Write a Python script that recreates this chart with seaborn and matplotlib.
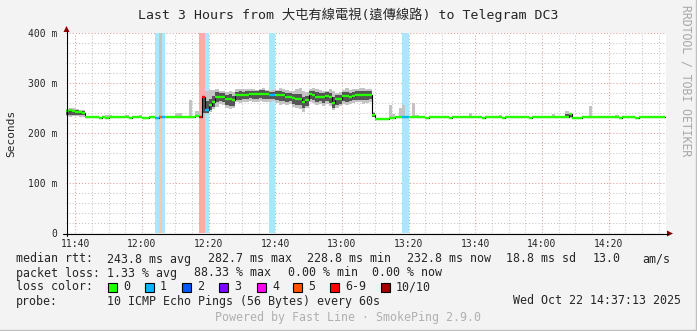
import matplotlib
matplotlib.use("Agg")
import matplotlib.pyplot as plt
from matplotlib.patches import Rectangle, Polygon
from matplotlib.lines import Line2D
from matplotlib.ticker import MultipleLocator, FixedLocator
from matplotlib.colors import to_rgb
import numpy as np
import pandas as pd
import seaborn as sns

sns.set_style("white")
MONO = ["DejaVu Sans Mono", "Noto Sans CJK TC"]
plt.rcParams["font.family"] = MONO

# ---------------- data ----------------
title = "Last 3 Hours from 大屯有線電視(遠傳線路) to Telegram DC3"
slot_start = 697            # 11:37 (minute of day), one slot per minute
view_start = 697 + 13 / 60  # 11:37:13
view_minutes = 180

tick_minutes = [700, 720, 740, 760, 780, 800, 820, 840, 860]
tick_labels = ["11:40", "12:00", "12:20", "12:40", "13:00", "13:20", "13:40", "14:00", "14:20"]
y_ticks = [0, 100, 200, 300, 400]
y_tick_labels = ["0", "100 m", "200 m", "300 m", "400 m"]

loss_buckets = ["0", "1", "2", "3", "4", "5", "6-9", "10/10"]
loss_palette = ["#26ff00", "#00b8ff", "#0059ff", "#7e00ff", "#ff00ff", "#ff5500", "#ff0000", "#a10000"]

# median rtt per minute (ms)
median = [
    244, 246, 244, 243, 243, 241, 233, 232, 232, 232,
    231, 232, 230, 232, 232, 232, 232, 232, 232, 231,
    232, 232, 232, 231, 230, 232, 232, 231, 232, 232,
    232, 232, 232, 232, 232, 232, 232, 233, 233, 234,
    233, 273, 246, 256, 263, 273, 273, 272, 268, 268,
    266, 276, 276, 276, 277, 278, 278, 278, 279, 279,
    278, 277, 276, 276, 276, 276, 273, 273, 270, 269,
    269, 263, 266, 278, 276, 273, 273, 272, 274, 272,
    261, 269, 269, 274, 274, 273, 275, 276, 276, 277,
    276, 277, 236, 229, 229, 229, 229, 231, 231, 232,
    232, 232, 232, 232, 232, 232, 232, 232, 231, 232,
    232, 232, 232, 232, 232, 231, 232, 232, 232, 232,
    232, 233, 232, 232, 232, 231, 232, 232, 232, 232,
    232, 231, 232, 232, 232, 232, 232, 232, 232, 231,
    232, 232, 232, 232, 232, 232, 232, 232, 232, 233,
    233, 238, 231, 231, 231, 232, 232, 232, 232, 232,
    232, 232, 232, 232, 232, 232, 231, 232, 232, 232,
    232, 231, 232, 232, 232, 232, 232, 232, 232, 233,
]

# lost pings (of 10) per minute
loss = [0] * 180
for i_, n_ in [(27, 1), (28, 5), (29, 1), (40, 7), (41, 7), (42, 1),
               (61, 1), (62, 1), (101, 1), (102, 1)]:
    loss[i_] = n_

# outer smoke (min / max ping)
smoke_hi = [
    249, 250, 250, 248, 247, 246, 235, 233, 233, 233,
    233, 233, 237, 237, 233, 233, 233, 233, 236, 233,
    233, 233, 236, 233, 233, 233, 233, 233, 420, 233,
    233, 233, 233, 241, 241, 233, 233, 266, 235, 244,
    236, 276, 285, 286, 287, 288, 285, 284, 282, 284,
    283, 289, 289, 288, 288, 289, 288, 287, 289, 290,
    287, 285, 286, 287, 290, 288, 286, 285, 284, 288,
    290, 285, 282, 289, 290, 288, 286, 285, 284, 288,
    285, 281, 283, 286, 290, 287, 288, 289, 290, 291,
    289, 288, 243, 231, 231, 231, 231, 256, 238, 233,
    251, 256, 233, 233, 261, 236, 233, 235, 233, 233,
    233, 235, 233, 233, 233, 233, 233, 233, 233, 233,
    233, 240, 234, 233, 233, 233, 233, 233, 233, 233,
    236, 233, 233, 233, 233, 233, 233, 233, 233, 233,
    233, 233, 233, 233, 233, 233, 239, 233, 233, 234,
    244, 241, 233, 233, 233, 233, 233, 255, 234, 233,
    233, 233, 233, 233, 233, 236, 233, 233, 233, 233,
    233, 233, 234, 234, 233, 233, 233, 233, 233, 234,
]
smoke_lo = [
    234, 233, 234, 234, 233, 233, 231, 231, 231, 231,
    230, 231, 229, 231, 231, 231, 231, 231, 231, 230,
    231, 231, 231, 230, 229, 231, 231, 230, 231, 231,
    231, 231, 231, 231, 231, 231, 231, 231, 231, 232,
    232, 233, 238, 243, 248, 252, 258, 256, 250, 249,
    250, 262, 260, 263, 262, 265, 263, 262, 264, 262,
    263, 262, 264, 260, 256, 258, 256, 258, 252, 250,
    248, 243, 250, 262, 260, 256, 258, 255, 258, 254,
    246, 250, 254, 258, 256, 258, 260, 262, 262, 258,
    260, 262, 232, 228, 228, 228, 228, 230, 230, 231,
    231, 231, 231, 231, 231, 231, 231, 231, 230, 231,
    231, 231, 231, 231, 231, 230, 231, 231, 231, 231,
    231, 231, 231, 231, 231, 230, 231, 231, 231, 231,
    231, 230, 231, 231, 231, 231, 231, 231, 231, 230,
    231, 231, 231, 231, 231, 231, 231, 231, 231, 231,
    231, 231, 230, 230, 230, 231, 231, 231, 231, 231,
    231, 231, 231, 231, 231, 231, 230, 231, 231, 231,
    231, 230, 231, 231, 231, 231, 231, 231, 231, 231,
]
# dark smoke core (pings closest to the median)
core_hi = [
    246, 247, 246, 246, 245, 244, 233, 232, 232, 232,
    231, 232, 230, 232, 232, 232, 232, 232, 232, 231,
    232, 232, 232, 231, 230, 232, 232, 231, 232, 232,
    232, 232, 232, 232, 232, 232, 232, 233, 233, 234,
    233, 273, 264, 268, 274, 282, 281, 280, 277, 278,
    274, 283, 284, 283, 284, 285, 285, 284, 286, 286,
    285, 283, 283, 284, 285, 283, 281, 280, 278, 279,
    278, 272, 275, 285, 284, 282, 281, 280, 282, 281,
    272, 277, 277, 282, 283, 281, 283, 284, 285, 285,
    284, 285, 240, 229, 229, 229, 229, 231, 231, 232,
    232, 232, 232, 232, 232, 232, 232, 232, 231, 232,
    232, 232, 232, 232, 232, 231, 232, 232, 232, 232,
    232, 233, 232, 232, 232, 231, 232, 232, 232, 232,
    232, 231, 232, 232, 232, 232, 232, 232, 232, 231,
    232, 232, 232, 232, 232, 232, 232, 232, 232, 233,
    238, 240, 231, 231, 231, 232, 232, 232, 232, 232,
    232, 232, 232, 232, 232, 232, 231, 232, 232, 232,
    232, 231, 232, 232, 232, 232, 232, 232, 232, 233,
]
core_lo = [
    236, 237, 236, 236, 236, 236, 233, 232, 232, 232,
    231, 232, 230, 232, 232, 232, 232, 232, 232, 231,
    232, 232, 232, 231, 230, 232, 232, 231, 232, 232,
    232, 232, 232, 232, 232, 232, 232, 233, 233, 234,
    233, 240, 241, 246, 253, 262, 264, 263, 256, 255,
    254, 266, 266, 268, 268, 270, 269, 268, 270, 269,
    269, 268, 268, 266, 264, 265, 263, 264, 258, 257,
    256, 250, 254, 268, 266, 263, 264, 261, 264, 260,
    250, 256, 258, 264, 263, 264, 266, 267, 267, 266,
    266, 268, 232, 229, 229, 229, 229, 231, 231, 232,
    232, 232, 232, 232, 232, 232, 232, 232, 231, 232,
    232, 232, 232, 232, 232, 231, 232, 232, 232, 232,
    232, 233, 232, 232, 232, 231, 232, 232, 232, 232,
    232, 231, 232, 232, 232, 232, 232, 232, 232, 231,
    232, 232, 232, 232, 232, 232, 232, 232, 232, 233,
    233, 233, 231, 231, 231, 232, 232, 232, 232, 232,
    232, 232, 232, 232, 232, 232, 231, 232, 232, 232,
    232, 231, 232, 232, 232, 232, 232, 232, 232, 233,
]

rtt_label = "median rtt:"
rtt_stats = ["243.8 ms avg", "282.7 ms max", "228.8 ms min", "232.8 ms now", "18.8 ms sd", "13.0", "am/s"]
loss_label = "packet loss:"
loss_stats = ["1.33 % avg", "88.33 % max", "0.00 % min", "0.00 % now"]
probe_label = "probe:"
probe_text = "10 ICMP Echo Pings (56 Bytes) every 60s"
date_text = "Wed Oct 22 14:37:13 2025"
powered_text = "Powered by Fast Line · SmokePing 2.9.0"
side_text = "RRDTOOL / TOBI OETIKER"

# ---------------- layout ----------------
W, H = 697, 331
BG = "#f3f3f3"


def fx(x):
    return x / W


def fy(y):
    return 1 - y / H


def bucket(n):
    if n <= 5:
        return n
    if n < 10:
        return 6
    return 7


def tint(c, a=1 / 3):
    r, g, b = to_rgb(c)
    return (1 - a + a * r, 1 - a + a * g, 1 - a + a * b)


df = pd.DataFrame({
    "t": np.arange(len(median)) + slot_start,
    "median": median, "loss": loss,
    "smoke_lo": smoke_lo, "smoke_hi": smoke_hi,
    "core_lo": core_lo, "core_hi": core_hi,
})
df["bucket"] = df["loss"].map(bucket)

fig = plt.figure(figsize=(W / 100, H / 100), dpi=100, facecolor=BG)
ax = fig.add_axes([fx(66), fy(233), 600 / W, 200 / H])
ax.set_facecolor("white")
for s in ax.spines.values():
    s.set_visible(False)
ax.set_xlim(view_start, view_start + view_minutes)
ax.set_ylim(0, 400)

# ticks and grid
ax.xaxis.set_major_locator(FixedLocator(tick_minutes))
ax.set_xticklabels(tick_labels)
ax.xaxis.set_minor_locator(MultipleLocator(5))
ax.yaxis.set_major_locator(FixedLocator(y_ticks))
ax.set_yticklabels(y_tick_labels)
ax.yaxis.set_minor_locator(MultipleLocator(20))
ax.tick_params(which="both", length=0)
ax.tick_params(axis="x", pad=4, labelsize=7)
ax.tick_params(axis="y", pad=6.5, labelsize=7)
ax.set_axisbelow(True)
ax.grid(which="minor", color="#c4c4c4", linestyle=(0, (1, 2)), linewidth=0.75)
ax.grid(which="major", color="#e09c9c", linestyle=(0, (1, 2)), linewidth=0.75)

# loss bands
bands = df[df["loss"] > 0]
ax.bar(bands["t"], 400, bottom=0, width=1, align="edge",
       color=[tint(loss_palette[b]) for b in bands["bucket"]],
       linewidth=0, antialiased=False, zorder=1)

# smoke
te = np.append(df["t"].values, df["t"].values[-1] + 1)


def ext(col):
    v = df[col].values
    return np.append(v, v[-1])


ax.fill_between(te, ext("smoke_lo"), ext("smoke_hi"), step="post",
                color="#c4c4c4", linewidth=0, zorder=2)
ax.fill_between(te, ext("core_lo"), ext("core_hi"), step="post",
                color="#555555", linewidth=0, zorder=3)

# black median step line (seaborn)
step_df = pd.DataFrame({"t": te, "median": ext("median")})
sns.lineplot(data=step_df, x="t", y="median", drawstyle="steps-post",
             color="black", linewidth=0.8, estimator=None, ax=ax, zorder=4)
ax.set_xlabel("")
ax.set_ylabel("")

# loss-coloured median segments
ax.hlines(df["median"], df["t"], df["t"] + 1,
          colors=[loss_palette[b] for b in df["bucket"]],
          linewidth=1.7, zorder=5)

# axes lines + arrows
axis_col = "#000000"
arrow_col = "#8b0000"
fig.add_artist(Line2D([fx(66.5), fx(66.5)], [fy(236), fy(30)], color=axis_col, lw=0.8))
fig.add_artist(Line2D([fx(63), fx(668)], [fy(233.5), fy(233.5)], color=axis_col, lw=0.8))
fig.add_artist(Polygon([[fx(63.5), fy(32)], [fx(69.5), fy(32)], [fx(66.5), fy(26)]],
                       closed=True, color=arrow_col, lw=0))
fig.add_artist(Polygon([[fx(667), fy(230.5)], [fx(667), fy(236.5)], [fx(673), fy(233.5)]],
                       closed=True, color=arrow_col, lw=0))

# title, axis label, side text
fig.text(fx(348), fy(15), title, ha="center", va="center", fontsize=9.5, family=MONO)
fig.text(fx(11), fy(133), "Seconds", rotation=90, ha="center", va="center", fontsize=8)
fig.text(fx(686), fy(5), side_text, rotation=-90, ha="center", va="top",
         fontsize=8.3, color="#a8a8a8")

# legend block
LS = 8.35
row_y = [259, 273, 287, 301]
fig.text(fx(16), fy(row_y[0]), rtt_label, ha="left", va="center", fontsize=LS)
for xpos, s in zip([107, 208, 307, 407, 506, 593, 642], rtt_stats):
    fig.text(fx(xpos), fy(row_y[0]), s, ha="left", va="center", fontsize=LS)
fig.text(fx(16), fy(row_y[1]), loss_label, ha="left", va="center", fontsize=LS)
for xpos, s in zip([107, 194, 288, 372], loss_stats):
    fig.text(fx(xpos), fy(row_y[1]), s, ha="left", va="center", fontsize=LS)
fig.text(fx(16), fy(row_y[2]), "loss color:", ha="left", va="center", fontsize=LS)
sq_x = [108, 145, 182, 219, 257, 293, 330, 381]
for xpos, lab, col in zip(sq_x, loss_buckets, loss_palette):
    fig.add_artist(Rectangle((fx(xpos), fy(row_y[2] + 4.5)), 8.5 / W, 9 / H,
                             facecolor=col, edgecolor="black", linewidth=0.8))
    fig.text(fx(xpos + 15), fy(row_y[2]), lab, ha="left", va="center", fontsize=LS)
fig.text(fx(16), fy(row_y[3]), probe_label, ha="left", va="center", fontsize=LS)
fig.text(fx(107), fy(row_y[3]), probe_text, ha="left", va="center", fontsize=LS)
fig.text(fx(681), fy(row_y[3]), date_text, ha="right", va="center", fontsize=LS)
fig.text(fx(348), fy(318), powered_text, ha="center", va="center", fontsize=LS,
         color="#b0b0b0")

# outer frame
fig.add_artist(Line2D([fx(695.5), fx(695.5)], [fy(0), fy(330)], color="#c0c0c0", lw=1))
fig.add_artist(Line2D([fx(0), fx(696)], [fy(329.5), fy(329.5)], color="#c0c0c0", lw=1))

fig.savefig("out.png", dpi=100, facecolor=BG)
